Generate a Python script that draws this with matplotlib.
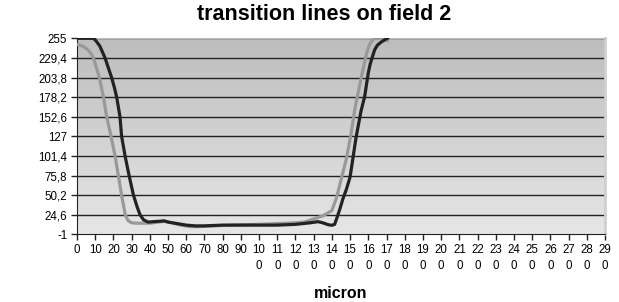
import numpy as np
import matplotlib.pyplot as plt

# values
black_x = [0, 8.8, 10, 12.5, 14, 15.4, 17, 19, 20.5, 21.8, 23.6, 24.5, 26.4, 28.6, 31, 33, 34.6,
           36.5, 39, 42, 45, 48, 50, 55, 60, 65, 70, 80, 90, 100, 110, 120, 128, 132.4, 135,
           138, 140, 141.5, 142.7, 144.5, 146, 148, 150, 153.3, 156, 158, 160, 161, 162, 163.5,
           165, 167, 169, 170.5]
black_y = [255, 255, 253, 245, 237, 229.4, 218, 203.8, 191, 178.2, 152.6, 127, 101.4, 75.8, 50.2,
           35, 24.6, 18, 15, 15.5, 16, 16.5, 15, 13, 11, 10, 10, 11, 11, 11, 11, 12, 14, 15.5, 14,
           11.5, 10.8, 12, 20, 33, 45, 58, 74, 126, 160, 179, 210, 221, 229, 240, 246, 250, 253,
           255]

gray_x = [0, 3, 6, 8, 9, 10.5, 12.3, 14.5, 16.3, 18.7, 20.9, 22.7, 24.5, 26.5, 28, 30, 33, 40,
          45, 48, 52, 57, 62, 67, 75, 85, 100, 110, 120, 125, 130, 135, 140, 142.7, 145, 148,
          150.5, 152.7, 156.4, 158, 159, 160.5, 162, 163.5, 168, 170.5]
gray_y = [247, 245, 240, 234, 229.4, 218, 203.8, 178.2, 152.6, 127, 101.4, 75.8, 50.2, 24.6, 17,
          14, 13.5, 13.5, 15, 16, 14, 11, 9, 9, 10, 11, 12, 13, 14, 15, 19, 23, 30, 48, 70, 98,
          130, 164, 207, 224, 235, 246, 252, 255, 255, 252]

y_ticks = [-1, 24.6, 50.2, 75.8, 101.4, 127, 152.6, 178.2, 203.8, 229.4, 255]
x_ticks = list(range(0, 300, 10))


def fmt(v):
    s = f'{v:g}'
    return s.replace('.', ',')


def xlab(v):
    s = str(v)
    if len(s) == 3:
        return s[:2] + '\n' + s[2]
    return s


plt.rcParams['font.family'] = ['Liberation Sans', 'DejaVu Sans']

fig = plt.figure(figsize=(6.19, 3.02), dpi=100)
ax = fig.add_axes([77 / 619, 1 - 234.3 / 302, 528 / 619, 196 / 302])

# gradient wall
grad = np.linspace(0, 1, 256).reshape(-1, 1)
cmap = plt.matplotlib.colors.LinearSegmentedColormap.from_list('wall', ['#e6e6e6', '#bdbdbd'])
ax.imshow(grad, extent=[0, 290, -1, 255], origin='lower', aspect='auto', cmap=cmap, zorder=0)

for yt in y_ticks[1:]:
    ax.axhline(yt, color='#222222', lw=1.0, zorder=1)

ax.plot(gray_x, gray_y, color='#999999', lw=2.3, zorder=3, solid_joinstyle='round')
ax.plot(black_x, black_y, color='#222222', lw=2.3, zorder=4, solid_joinstyle='round')

ax.set_xlim(0, 290)
ax.set_ylim(-1, 255)
ax.set_yticks(y_ticks)
ax.set_yticklabels([fmt(v) for v in y_ticks], fontsize=8.3)
ax.set_xticks(x_ticks)
ax.set_xticklabels([xlab(v) for v in x_ticks], fontsize=8.3, linespacing=1.45)
ax.tick_params(axis='both', length=4, width=1, color='#222222', pad=3)

ax.spines['top'].set_color('#bdbdbd')
ax.spines['right'].set_color('#d0d0d0')
ax.spines['right'].set_linewidth(2)
ax.spines['left'].set_color('#222222')
ax.spines['bottom'].set_color('#222222')

ax.set_xlabel('micron', fontsize=11.5, fontweight='bold', labelpad=10)
fig.text(324 / 619, 1 - 14 / 302, 'transition lines on field 2', ha='center', va='center',
         fontsize=15.5, fontweight='bold')

fig.savefig('out.png', dpi=100)
